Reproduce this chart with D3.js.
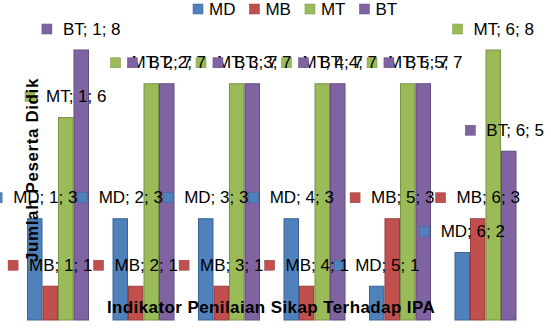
<!DOCTYPE html>
<html>
<head>
<meta charset="utf-8">
<script src="https://d3js.org/d3.v7.min.js"></script>
<style>
  body { margin: 0; background: #fff; }
  text { font-family: "Liberation Sans", Arial, sans-serif; }
</style>
</head>
<body>
<script>
// data
const groups = ['1', '2', '3', '4', '5', '6'];
const seriesNames = ['MD', 'MB', 'MT', 'BT'];
const valMD = [3, 3, 3, 3, 1, 2];
const valMB = [1, 1, 1, 1, 3, 3];
const valMT = [6, 7, 7, 7, 7, 8];
const valBT = [8, 7, 7, 7, 7, 5];
const xTitle = 'Indikator Penilaian Sikap Terhadap IPA';
const yTitle = 'Jumlah Peserta Didik';

const colors = { MD: '#4F81BD', MB: '#C0504D', MT: '#9BBB59', BT: '#8064A2' };
const strokes = { MD: '#3A6595', MB: '#9A3D3B', MT: '#7A9446', BT: '#634D80' };
const values = { MD: valMD, MB: valMB, MT: valMT, BT: valBT };

const W = 551, H = 336;
const svg = d3.select('body').append('svg')
    .attr('width', W)
    .attr('height', H);

const x0 = d3.scaleBand()
    .domain(groups)
    .range([15.25, 528.25])
    .paddingInner(0.275)
    .paddingOuter(0.1375);

const x1 = d3.scaleBand()
    .domain(seriesNames)
    .range([0, x0.bandwidth()]);

const y = d3.scaleLinear()
    .domain([0, 9])
    .range([320, 16.25]);

// bars
const rows = [];
seriesNames.forEach(s => {
    groups.forEach((g, i) => rows.push({ s, g, v: values[s][i] }));
});

svg.append('g').selectAll('rect')
    .data(rows)
    .enter().append('rect')
    .attr('x', d => x0(d.g) + x1(d.s) + 0.5)
    .attr('y', d => y(d.v))
    .attr('width', x1.bandwidth() - 1)
    .attr('height', d => y(0) - y(d.v))
    .style('fill', d => colors[d.s])
    .style('stroke', d => strokes[d.s])
    .style('stroke-width', 1);

// data labels with legend key, drawn series by series
const labelG = svg.append('g');
const keySize = 10, keyGap = 11;
rows.forEach(d => {
    const g = labelG.append('g');
    const t = g.append('text')
        .attr('font-size', 17)
        .attr('fill', '#000')
        .attr('dominant-baseline', 'central')
        .text(`${d.s}; ${d.g}; ${d.v}`);
    const tw = t.node().getComputedTextLength();
    const total = keySize + keyGap + tw;
    const cx = x0(d.g) + x1(d.s) + x1.bandwidth() / 2;
    let left = cx - total / 2;
    if (left + total > 544) left = 544 - total;
    const cy = y(d.v) - 21;
    g.insert('rect', 'text')
        .attr('x', left)
        .attr('y', cy - keySize / 2)
        .attr('width', keySize)
        .attr('height', keySize)
        .style('fill', colors[d.s])
        .style('stroke', strokes[d.s])
        .style('stroke-width', 0.5);
    t.attr('x', left + keySize + keyGap).attr('y', cy);
});

// legend
const legend = svg.append('g');
let lx = 193;
seriesNames.forEach(s => {
    legend.append('rect')
        .attr('x', lx)
        .attr('y', 4)
        .attr('width', 10)
        .attr('height', 10)
        .style('fill', colors[s])
        .style('stroke', strokes[s])
        .style('stroke-width', 0.5);
    const t = legend.append('text')
        .attr('x', lx + 16)
        .attr('y', 9)
        .attr('font-size', 17)
        .attr('dominant-baseline', 'central')
        .text(s);
    lx += 16 + t.node().getComputedTextLength() + 14;
});

// axis titles
svg.append('text')
    .attr('x', 271)
    .attr('y', 307)
    .attr('text-anchor', 'middle')
    .attr('dominant-baseline', 'central')
    .attr('font-size', 17)
    .attr('font-weight', 'bold')
    .attr('letter-spacing', 0.4)
    .text(xTitle);

svg.append('text')
    .attr('transform', 'translate(32,170) rotate(-90)')
    .attr('text-anchor', 'middle')
    .attr('dominant-baseline', 'central')
    .attr('font-size', 17)
    .attr('font-weight', 'bold')
    .attr('letter-spacing', 0.6)
    .text(yTitle);
</script>
</body>
</html>
